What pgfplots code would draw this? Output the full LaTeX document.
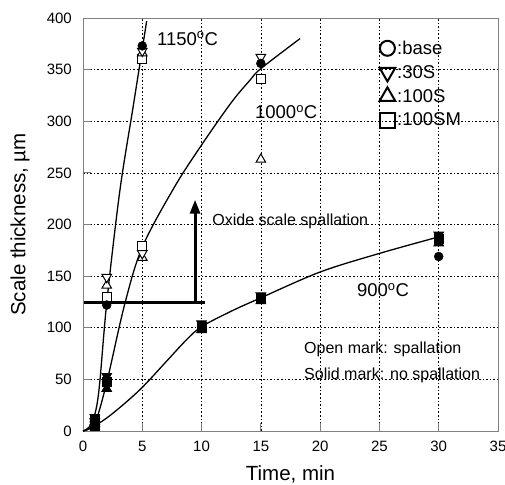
\documentclass[border=0pt]{standalone}
\usepackage{fontspec}
\setmainfont{Liberation Sans}
\usepackage{pgfplots}
\pgfplotsset{compat=1.18}
\usetikzlibrary{arrows.meta}

\begin{document}
\begin{tikzpicture}
\useasboundingbox (-83bp,-54bp) rectangle (422bp,431bp);
\begin{axis}[
    at={(0,0)}, anchor=south west,
    width=415bp, height=413bp, scale only axis,
    xmin=0, xmax=35, ymin=0, ymax=400,
    xtick={0,5,...,35}, ytick={0,50,...,400},
    grid=major,
    grid style={black, line width=0.6bp, dash pattern=on 1.6bp off 2bp},
    axis line style={gray, line width=0.8bp},
    tick style={gray, line width=0.8bp},
    tick align=inside, xtick pos=bottom, ytick pos=left,
    major tick length=8bp,
    /pgf/number format/assume math mode=true,
    ticklabel style={font=\fontsize{15bp}{17bp}\selectfont, inner sep=0pt},
    xticklabel style={anchor=base, yshift=-20bp},
    yticklabel style={anchor=east, xshift=-11bp},
    xlabel={Time, min}, ylabel={Scale thickness, µm},
    label style={font=\fontsize{20.5bp}{22bp}\selectfont, inner sep=0pt},
    xlabel style={at={(axis description cs:0.5,0)}, anchor=base, yshift=-49bp},
    ylabel style={at={(axis description cs:0,0.5)}, anchor=center, yshift=63bp},
    legend style={draw=none, fill=none, at={(axis cs:25.0,380)}, anchor=north west,
        font=\fontsize{18.5bp}{20bp}\selectfont, inner sep=0pt,
        row sep=5.5bp, /tikz/every even column/.append style={column sep=6bp}},
    legend cell align=left,
    clip=false,
]
% legend images
\addlegendimage{only marks, mark=o, mark size=7.5bp, line width=2bp}
\addlegendentry{:base}
\addlegendimage{only marks, mark=triangle, mark size=9bp, line width=2bp, mark options={rotate=180}}
\addlegendentry{:30S}
\addlegendimage{only marks, mark=triangle, mark size=9bp, line width=2bp}
\addlegendentry{:100S}
\addlegendimage{only marks, mark=square, mark size=7.5bp, line width=2bp}
\addlegendentry{:100SM}

% fitted curves
\addplot[black, line width=1.3bp, smooth, tension=0.55, forget plot] coordinates {
(0,0) (0.7,7) (1.3,35) (2,124) (3.1,232) (4.2,312) (5,370) (5.37,397)};
\addplot[black, line width=1.3bp, smooth, tension=0.55, forget plot] coordinates {
(0,0) (1,8) (2,47) (3.5,122) (5,178) (7.7,236) (10,277) (12.5,318) (14.1,340) (15,351) (18.3,380)};
\addplot[black, line width=1.3bp, smooth, tension=0.55, forget plot] coordinates {
(0,0) (1,5) (2.5,17) (4.8,40) (7,67) (8.7,88) (10,101) (12.5,116) (15,129) (20,154) (25,172) (30,188)};

% spallation threshold and arrow
\addplot[black, line width=3bp, forget plot] coordinates {(0.1,124.5) (10.3,124.5)};
\addplot[black, line width=3bp, -{Triangle[length=14bp,width=10bp]}, forget plot] coordinates {(9.45,124.5) (9.45,224)};

% 100SM (square)
\addplot[only marks, mark=square*, mark size=4.5bp, mark options={fill=white, line width=1bp}, forget plot] coordinates {
(2,130) (5,360) (5,179) (15,341)};
\addplot[only marks, mark=square*, mark size=4.5bp, mark options={fill=black, line width=1bp}, forget plot] coordinates {
(1,12) (1,8) (2,47) (1,5) (10,101) (15,128) (30,186)};
% 100S (up triangle)
\addplot[only marks, mark=triangle*, mark size=5.5bp, mark options={fill=white, line width=1bp}, forget plot] coordinates {
(2,141) (5,366) (5,168) (15,263)};
\addplot[only marks, mark=triangle*, mark size=5.5bp, mark options={fill=black, line width=1bp}, forget plot] coordinates {
(1,9) (1,7) (2,41) (1,4) (10,98) (15,126) (30,182)};
% 30S (down triangle)
\addplot[only marks, mark=triangle*, mark size=5.5bp, mark options={rotate=180, fill=white, line width=1bp}, forget plot] coordinates {
(2,149) (5,368) (5,172) (15,362)};
\addplot[only marks, mark=triangle*, mark size=5.5bp, mark options={rotate=180, fill=black, line width=1bp}, forget plot] coordinates {
(1,13) (1,9) (2,53) (1,6) (10,104) (15,131) (30,190)};
% base (circle)
\addplot[only marks, mark=*, mark size=4.5bp, mark options={fill=black}, forget plot] coordinates {
(1,11) (2,122) (5,373) (1,8) (2,47) (15,356) (1,5) (10,101) (15,128) (30,169)};

% annotations
\node[anchor=base west, inner sep=0pt, font=\fontsize{18.5bp}{20bp}\selectfont] at (axis cs:6.24,373.8) {1150\textsuperscript{o}C};
\node[anchor=base west, inner sep=0pt, font=\fontsize{18.5bp}{20bp}\selectfont] at (axis cs:14.5,302.8) {1000\textsuperscript{o}C};
\node[anchor=base west, inner sep=0pt, font=\fontsize{18.5bp}{20bp}\selectfont] at (axis cs:23.1,130) {900\textsuperscript{o}C};
\node[anchor=base west, inner sep=0pt, font=\fontsize{16bp}{17bp}\selectfont] at (axis cs:10.9,199.5) {Oxide scale spallation};
\node[anchor=base west, inner sep=0pt, font=\fontsize{16bp}{17bp}\selectfont] at (axis cs:18.64,74.6) {Open mark: spallation};
\node[anchor=base west, inner sep=0pt, font=\fontsize{16bp}{17bp}\selectfont] at (axis cs:18.64,49.4) {Solid mark: no spallation};
\end{axis}
\end{tikzpicture}
\end{document}
